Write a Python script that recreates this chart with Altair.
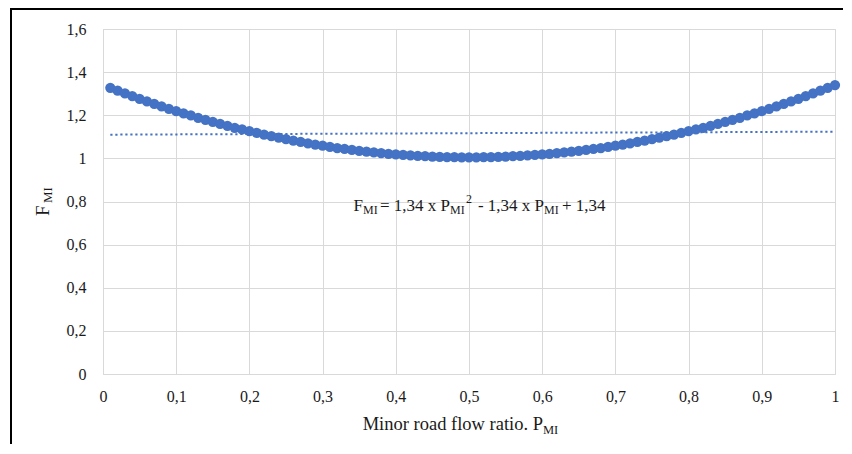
import altair as alt
import pandas as pd

# ---- data ----
x_values = [0.01, 0.02, 0.03, 0.04, 0.05, 0.06, 0.07, 0.08, 0.09, 0.10,
            0.11, 0.12, 0.13, 0.14, 0.15, 0.16, 0.17, 0.18, 0.19, 0.20,
            0.21, 0.22, 0.23, 0.24, 0.25, 0.26, 0.27, 0.28, 0.29, 0.30,
            0.31, 0.32, 0.33, 0.34, 0.35, 0.36, 0.37, 0.38, 0.39, 0.40,
            0.41, 0.42, 0.43, 0.44, 0.45, 0.46, 0.47, 0.48, 0.49, 0.50,
            0.51, 0.52, 0.53, 0.54, 0.55, 0.56, 0.57, 0.58, 0.59, 0.60,
            0.61, 0.62, 0.63, 0.64, 0.65, 0.66, 0.67, 0.68, 0.69, 0.70,
            0.71, 0.72, 0.73, 0.74, 0.75, 0.76, 0.77, 0.78, 0.79, 0.80,
            0.81, 0.82, 0.83, 0.84, 0.85, 0.86, 0.87, 0.88, 0.89, 0.90,
            0.91, 0.92, 0.93, 0.94, 0.95, 0.96, 0.97, 0.98, 0.99, 1.00]
f_mi = [1.327, 1.314, 1.301, 1.289, 1.276, 1.264, 1.253, 1.241, 1.230, 1.219,
        1.209, 1.199, 1.188, 1.179, 1.169, 1.160, 1.151, 1.142, 1.134, 1.126,
        1.118, 1.110, 1.103, 1.096, 1.089, 1.082, 1.076, 1.070, 1.064, 1.059,
        1.053, 1.048, 1.044, 1.039, 1.035, 1.031, 1.028, 1.024, 1.021, 1.018,
        1.016, 1.014, 1.012, 1.010, 1.008, 1.007, 1.006, 1.006, 1.005, 1.005,
        1.005, 1.006, 1.006, 1.007, 1.008, 1.010, 1.012, 1.014, 1.016, 1.018,
        1.021, 1.024, 1.028, 1.031, 1.035, 1.039, 1.044, 1.048, 1.053, 1.059,
        1.064, 1.070, 1.076, 1.082, 1.089, 1.096, 1.103, 1.110, 1.118, 1.126,
        1.134, 1.142, 1.151, 1.160, 1.169, 1.179, 1.188, 1.199, 1.209, 1.219,
        1.230, 1.241, 1.253, 1.264, 1.276, 1.289, 1.301, 1.314, 1.327, 1.340]
trend_x = [0.01, 1.00]
trend_y = [1.110, 1.124]
x_ticks = [0, 0.1, 0.2, 0.3, 0.4, 0.5, 0.6, 0.7, 0.8, 0.9, 1]
y_ticks = [0, 0.2, 0.4, 0.6, 0.8, 1, 1.2, 1.4, 1.6]

FONT = "Liberation Serif"
BLUE = "#4472C4"
GRID = "#d9d9d9"
TXT = "#1a1a1a"
LBL = "replace(format(datum.value, '~g'), '.', ',')"

pts = pd.DataFrame({"x": x_values, "y": f_mi})
trend = pd.DataFrame({"x": trend_x, "y": trend_y})
one = pd.DataFrame({"a": [0]})

xs = alt.Scale(domain=[0, 1], nice=False, zero=False)
ys = alt.Scale(domain=[0, 1.6], nice=False)

x_axis = alt.Axis(values=x_ticks, labelExpr=LBL, title=None, grid=True,
                  gridColor=GRID, gridWidth=1, domainColor=GRID, ticks=False,
                  labelFont=FONT, labelFontSize=16, labelColor=TXT,
                  labelPadding=14, labelFlush=False)
y_axis = alt.Axis(values=y_ticks, labelExpr=LBL, title=None, grid=True,
                  gridColor=GRID, gridWidth=1, domainColor=GRID, ticks=False,
                  labelFont=FONT, labelFontSize=16, labelColor=TXT,
                  labelPadding=17)

trend_line = alt.Chart(trend).mark_line(
    color=BLUE, strokeWidth=2, strokeDash=[2.2, 2.8]
).encode(x=alt.X("x:Q", scale=xs, axis=x_axis),
         y=alt.Y("y:Q", scale=ys, axis=y_axis))

points = alt.Chart(pts).mark_circle(color=BLUE, size=105, opacity=1).encode(
    x=alt.X("x:Q", scale=xs), y=alt.Y("y:Q", scale=ys))


def label(text, x, y, size, align="left", angle=0):
    return alt.Chart(one).mark_text(
        text=text, font=FONT, fontSize=size, align=align,
        baseline="alphabetic", angle=angle, color=TXT
    ).encode(x=alt.value(x), y=alt.value(y))


EQ = 17
SUB = 12
# positions in pixels relative to plot area
labels = [
    # equation
    label("F", 260, 182, EQ, "right"),
    label("MI", 260, 185, SUB),
    label("= 1,34 x P", 347, 182, EQ, "right"),
    label("MI", 347, 185, SUB),
    label("2", 363, 174, SUB),
    label("- 1,34 x P", 441, 182, EQ, "right"),
    label("MI", 441, 185, SUB),
    label("+ 1,34", 459, 182, EQ),
    # x title
    label("Minor road flow ratio. P", 440, 401, 18.5, "right"),
    label("MI", 440, 405, 12.5),
    # y title
    label("F", -54, 187, 19, "left", 270),
    label("MI", -51, 174, 13, "left", 270),
]

frame_left = alt.Chart(one).mark_rule(color="black", strokeWidth=2).encode(
    x=alt.value(-92), y=alt.value(-21), y2=alt.value(415))
frame_top = alt.Chart(one).mark_rule(color="black", strokeWidth=2).encode(
    x=alt.value(-93), x2=alt.value(740), y=alt.value(-20))

chart = alt.layer(trend_line, points, *labels, frame_left, frame_top).properties(
    width=732, height=345,
    autosize=alt.AutoSizeParams(type="none"),
    padding={"left": 95, "top": 21, "right": 8, "bottom": 70},
).configure_view(stroke=None).configure(background="white")

chart.save("out.html", embed_options={"renderer": "svg", "actions": False})
